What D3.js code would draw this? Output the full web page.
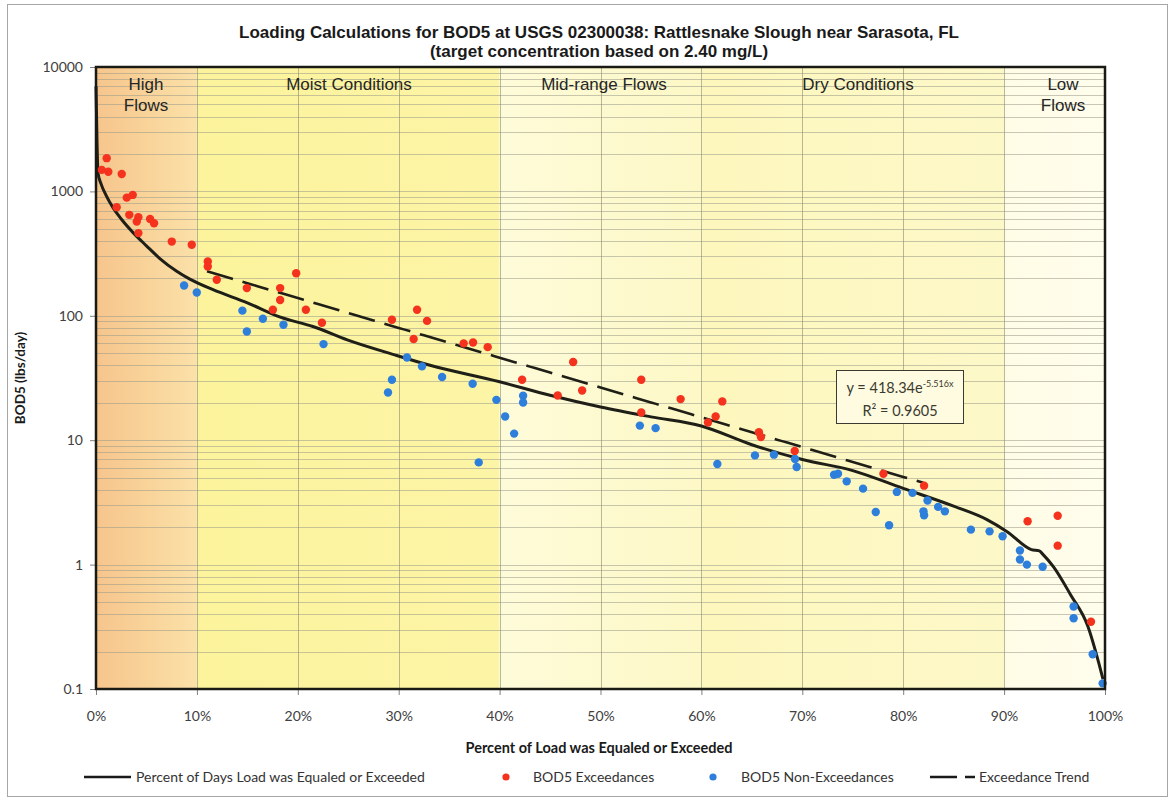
<!DOCTYPE html>
<html>
<head>
<meta charset="utf-8">
<script src="https://cdn.jsdelivr.net/npm/d3@7"></script>
<style>
  html, body { margin: 0; padding: 0; background: #ffffff; }
  svg { display: block; }
</style>
</head>
<body>
<svg id="chart" width="1173" height="802"></svg>
<script>
// Load duration curve (percent of days exceeded, lbs/day)
const durationPct  = [0, 0.1, 0.2, 0.5, 1.0, 1.7, 2.5, 3.7, 5.0, 6.3, 8.0, 9.3, 11.6, 15.0, 18.2, 21.5, 24.9, 29.8, 33.1, 40, 45, 50, 55, 60, 65, 70, 75, 80, 85, 88.3, 90.3, 92.7, 93.5, 93.8, 94.9, 96.6, 98.3, 99.4, 99.8];
const durationLoad = [7000, 2500, 1400, 1150, 930, 737, 600, 464, 365, 290, 228, 197, 162, 127, 98, 82, 64, 48, 40, 29.5, 23, 18.5, 15.4, 13.0, 9.2, 7.0, 5.7, 4.1, 2.95, 2.3, 1.84, 1.32, 1.29, 1.22, 0.96, 0.57, 0.32, 0.16, 0.12];

// Observed loads above the target curve
const exceedPct  = [1.06, 0.57, 1.22, 2.55, 3.05, 3.64, 2.05, 3.30, 4.20, 4.04, 5.36, 5.75, 4.20, 7.51, 9.49, 11.08, 11.08, 11.97, 19.84, 14.95, 18.25, 18.25, 17.53, 20.80, 22.39, 29.33, 31.82, 32.81, 31.48, 36.44, 37.37, 38.82, 42.23, 47.29, 45.76, 48.18, 54.04, 54.04, 57.94, 62.07, 61.41, 60.65, 65.70, 65.90, 69.25, 78.04, 82.07, 92.33, 95.31, 95.31, 98.61];
const exceedLoad = [1850, 1490, 1440, 1380, 891, 937, 747, 648, 621, 572, 601, 555, 462, 395, 372, 273, 249, 195, 220, 167, 167, 134, 112, 112, 88, 93, 112, 91, 65, 60, 61, 56, 30.6, 42.5, 22.9, 25.1, 30.6, 16.7, 21.4, 20.5, 15.5, 13.9, 11.6, 10.6, 8.2, 5.38, 4.31, 2.23, 2.47, 1.42, 0.347];

// Observed loads at or below the target curve
const nonExceedPct  = [8.73, 9.99, 14.51, 16.54, 18.58, 14.95, 22.55, 30.82, 32.31, 34.30, 29.33, 28.94, 37.33, 39.68, 42.33, 42.33, 40.55, 41.44, 37.93, 53.90, 55.46, 61.58, 65.31, 67.19, 69.28, 69.44, 73.15, 73.54, 74.40, 76.02, 77.28, 78.60, 79.37, 80.92, 82.41, 82.01, 82.07, 83.46, 84.13, 86.71, 88.56, 89.85, 91.57, 91.57, 92.26, 93.82, 96.89, 96.89, 98.78, 99.77];
const nonExceedLoad = [175, 154, 110, 94.6, 84.7, 74.8, 59.2, 46.2, 39.2, 32.2, 30.6, 24.2, 28.4, 21.1, 22.8, 20.1, 15.5, 11.3, 6.63, 13.1, 12.5, 6.44, 7.55, 7.65, 7.06, 6.09, 5.28, 5.38, 4.67, 4.08, 2.65, 2.07, 3.84, 3.77, 3.28, 2.68, 2.49, 2.91, 2.68, 1.91, 1.85, 1.69, 1.30, 1.10, 1.00, 0.96, 0.46, 0.37, 0.19, 0.111];

// Fitted exceedance trend: y = a * e^(b * x), x as fraction of days
const trendA = 418.34;
const trendB = -5.516;
const trendR2 = "0.9605";
const trendRangePct = [11, 82];

// Flow regime zones
const zoneNames = [["High", "Flows"], ["Moist Conditions"], ["Mid-range Flows"], ["Dry Conditions"], ["Low", "Flows"]];
const zoneBounds = [0, 10, 40, 60, 90, 100];

// Axis ticks
const yTicks = [0.1, 1, 10, 100, 1000, 10000];
const yTickLabels = ["0.1", "1", "10", "100", "1000", "10000"];
const xTicks = [0, 10, 20, 30, 40, 50, 60, 70, 80, 90, 100];

(function draw() {
  const svg = d3.select("#chart");
  const pL = 96, pR = 1105, pT = 67, pB = 689;

  const x = d3.scaleLinear().domain([0, 100]).range([pL, pR]);
  const y = d3.scaleLog().domain([0.1, 10000]).range([pB, pT]);

  // Outer frame
  svg.append("rect").attr("x", 7.5).attr("y", 4.5).attr("width", 1160).attr("height", 792)
    .attr("fill", "#ffffff").attr("stroke", "#a6a6a6").attr("stroke-width", 1);

  // Zone gradients
  const defs = svg.append("defs");
  const zoneFills = [
    ["#f6c58c", "#fbe1a8"],
    ["#fcf39c", "#fdf5a6"],
    ["#fefbd9", "#fdf8c6"],
    ["#fdf7bd", "#fdf8c8"],
    ["#fffce6", "#fffdec"]
  ];
  zoneFills.forEach((c, i) => {
    const g = defs.append("linearGradient").attr("id", "zone" + i)
      .attr("x1", "0%").attr("x2", "100%").attr("y1", "0%").attr("y2", "0%");
    g.append("stop").attr("offset", "0%").attr("stop-color", c[0]);
    g.append("stop").attr("offset", "100%").attr("stop-color", c[1]);
  });

  svg.append("g").selectAll("rect").data(d3.range(zoneNames.length)).join("rect")
    .attr("x", i => x(zoneBounds[i]))
    .attr("y", pT)
    .attr("width", i => x(zoneBounds[i + 1]) - x(zoneBounds[i]))
    .attr("height", pB - pT)
    .attr("fill", i => `url(#zone${i})`);

  // Gridlines: decades and minor log steps
  const minorVals = [];
  for (let e = -1; e < 4; e++) {
    for (let m = 1; m <= 9; m++) minorVals.push(m * Math.pow(10, e));
  }
  svg.append("g").selectAll("line").data(minorVals.filter(v => v > 0.1001)).join("line")
    .attr("x1", pL).attr("x2", pR)
    .attr("y1", d => Math.round(y(d)) + 0.5).attr("y2", d => Math.round(y(d)) + 0.5)
    .attr("stroke", "#9a9a8a").attr("stroke-opacity", 0.55).attr("stroke-width", 1);

  svg.append("g").selectAll("line").data(xTicks.slice(1, -1)).join("line")
    .attr("x1", d => Math.round(x(d)) + 0.5).attr("x2", d => Math.round(x(d)) + 0.5)
    .attr("y1", pT).attr("y2", pB)
    .attr("stroke", "#8c8c70").attr("stroke-opacity", 0.6).attr("stroke-width", 1);

  // Zone labels
  const zoneText = svg.append("g").attr("font-family", "Liberation Sans, Arial, sans-serif")
    .attr("font-size", 17).attr("fill", "#262626").attr("text-anchor", "middle");
  const zoneCenters = [146, 349, 604, 858, 1063];
  zoneNames.forEach((lines, i) => {
    lines.forEach((t, k) => {
      zoneText.append("text").attr("x", zoneCenters[i]).attr("y", 90 + k * 21).text(t);
    });
  });

  // Axes
  const yAxis = d3.axisLeft(y).tickValues(yTicks).tickSize(6).tickPadding(7)
    .tickFormat((d, i) => yTickLabels[i]);
  const gy = svg.append("g").attr("transform", `translate(${pL},0)`).call(yAxis);
  gy.select(".domain").remove();
  gy.selectAll(".tick line").attr("stroke", "#808080");
  gy.selectAll(".tick text").attr("font-family", "Lato, Carlito, sans-serif").attr("font-size", 14).attr("fill", "#404040");

  const xAxis = d3.axisBottom(x).tickValues(xTicks).tickSize(6).tickPadding(16)
    .tickFormat(d => d + "%");
  const gx = svg.append("g").attr("transform", `translate(0,${pB})`).call(xAxis);
  gx.select(".domain").remove();
  gx.selectAll(".tick line").attr("stroke", "#808080");
  gx.selectAll(".tick text").attr("font-family", "Lato, Carlito, sans-serif").attr("font-size", 14).attr("fill", "#404040");

  // Duration curve
  const durData = durationPct.map((p, i) => [p, durationLoad[i]]);
  svg.append("path").datum(durData)
    .attr("d", d3.line().x(d => x(d[0])).y(d => y(d[1])).curve(d3.curveMonotoneX))
    .attr("fill", "none").attr("stroke", "#1f1f17").attr("stroke-width", 3);

  // Exceedance trend line
  const trendData = d3.range(trendRangePct[0], trendRangePct[1] + 0.01, 0.5)
    .map(p => [p, trendA * Math.exp(trendB * p / 100)]);
  svg.append("path").datum(trendData)
    .attr("d", d3.line().x(d => x(d[0])).y(d => y(d[1])))
    .attr("fill", "none").attr("stroke", "#1f1f17").attr("stroke-width", 2.6)
    .attr("stroke-dasharray", "27,10");

  // Sample points
  svg.append("g").selectAll("circle").data(nonExceedPct.map((p, i) => [p, nonExceedLoad[i]])).join("circle")
    .attr("cx", d => x(d[0])).attr("cy", d => y(d[1])).attr("r", 4.2)
    .attr("fill", "#2e7fdc");
  svg.append("g").selectAll("circle").data(exceedPct.map((p, i) => [p, exceedLoad[i]])).join("circle")
    .attr("cx", d => x(d[0])).attr("cy", d => y(d[1])).attr("r", 4.2)
    .attr("fill", "#f5321e");

  // Plot frame
  svg.append("rect").attr("x", pL).attr("y", pT).attr("width", pR - pL).attr("height", pB - pT)
    .attr("fill", "none").attr("stroke", "#1a1a14").attr("stroke-width", 2.5);

  // Trend equation box
  const eq = svg.append("g");
  eq.append("rect").attr("x", 836.5).attr("y", 370.5).attr("width", 127).attr("height", 53)
    .attr("fill", "#fffbe0").attr("stroke", "#3a3a30").attr("stroke-width", 1);
  const eqText = eq.append("text").attr("x", 900).attr("y", 393).attr("text-anchor", "middle")
    .attr("font-family", "Lato, Carlito, sans-serif").attr("font-size", 14.5).attr("fill", "#3a3a30");
  eqText.append("tspan").text(`y = ${trendA}e`);
  eqText.append("tspan").attr("dy", -6).attr("font-size", 9).text(`${trendB}x`);
  eq.append("text").attr("x", 900).attr("y", 416).attr("text-anchor", "middle")
    .attr("font-family", "Lato, Carlito, sans-serif").attr("font-size", 14.5).attr("fill", "#3a3a30")
    .text(`R² = ${trendR2}`);

  // Titles
  const title = svg.append("g").attr("font-family", "Liberation Sans, Arial, sans-serif")
    .attr("font-weight", "bold").attr("fill", "#1a1a1a").attr("text-anchor", "middle");
  title.append("text").attr("x", 599).attr("y", 38).attr("font-size", 17)
    .text("Loading Calculations for BOD5 at USGS 02300038: Rattlesnake Slough near Sarasota, FL");
  title.append("text").attr("x", 599).attr("y", 57).attr("font-size", 17)
    .text("(target concentration based on 2.40 mg/L)");

  svg.append("text").attr("x", 599).attr("y", 753).attr("text-anchor", "middle")
    .attr("font-family", "Lato, Carlito, sans-serif").attr("font-weight", "bold").attr("font-size", 14.5)
    .attr("fill", "#1a1a1a").text("Percent of Load was Equaled or Exceeded");

  svg.append("text").attr("transform", `translate(25,${(pT + pB) / 2}) rotate(-90)`)
    .attr("text-anchor", "middle")
    .attr("font-family", "Lato, Carlito, sans-serif").attr("font-weight", "bold").attr("font-size", 13.5)
    .attr("fill", "#1a1a1a").text("BOD5 (lbs/day)");

  // Legend
  const lg = svg.append("g").attr("font-family", "Lato, Carlito, sans-serif").attr("font-size", 14).attr("fill", "#333");
  const ly = 777;
  lg.append("line").attr("x1", 84).attr("x2", 131).attr("y1", ly).attr("y2", ly)
    .attr("stroke", "#1a1a1a").attr("stroke-width", 2.6);
  lg.append("text").attr("x", 136).attr("y", ly + 5).text("Percent of Days Load was Equaled or Exceeded");
  lg.append("circle").attr("cx", 506).attr("cy", ly).attr("r", 3.6).attr("fill", "#f5321e");
  lg.append("text").attr("x", 533).attr("y", ly + 5).text("BOD5 Exceedances");
  lg.append("circle").attr("cx", 713).attr("cy", ly).attr("r", 3.6).attr("fill", "#2e7fdc");
  lg.append("text").attr("x", 741).attr("y", ly + 5).text("BOD5 Non-Exceedances");
  lg.append("line").attr("x1", 930).attr("x2", 975).attr("y1", ly).attr("y2", ly)
    .attr("stroke", "#1a1a1a").attr("stroke-width", 2.6).attr("stroke-dasharray", "27,8");
  lg.append("text").attr("x", 979).attr("y", ly + 5).text("Exceedance Trend");
})();
</script>
</body>
</html>
